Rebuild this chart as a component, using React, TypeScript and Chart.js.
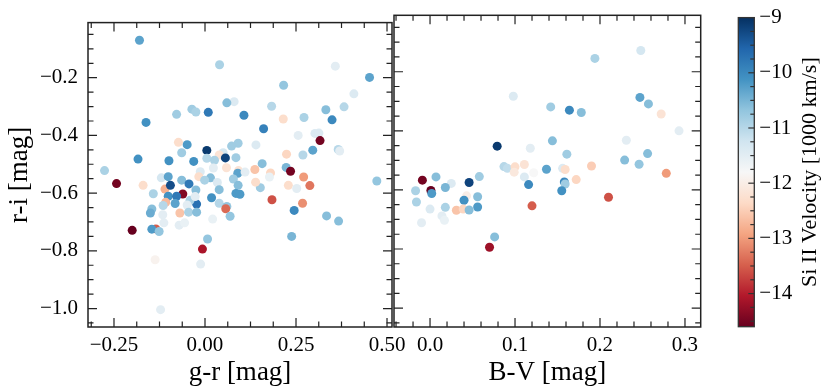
import React, { useEffect, useRef } from "react";
import { Chart, registerables } from "chart.js";
Chart.register(...registerables);

// ---------- data: left panel (g-r vs r-i) ----------
const GR = [
  -0.180, 0.040, 0.358, 0.452, 0.216, 0.409, 0.080, 0.060, 0.183, 0.332,
  0.382, -0.036, -0.025, 0.009, -0.078, 0.107, -0.162, 0.215, 0.272, 0.349,
  0.161, 0.256, 0.302, 0.313, 0.316, -0.073, -0.049, 0.091, 0.073, 0.140,
  0.005, 0.296, 0.366, 0.370, -0.064, 0.050, 0.039, 0.056, -0.184, -0.099,
  -0.031, 0.005, 0.026, 0.085, 0.224, 0.269, 0.157, -0.276, 0.137, 0.180,
  0.223, 0.235, 0.059, 0.092, 0.090, 0.110, -0.013, 0.023, -0.243, -0.170,
  -0.120, -0.101, -0.064, -0.044, -0.017, 0.015, -0.001, 0.034, 0.078, 0.091,
  0.177, 0.271, 0.229, 0.288, 0.252, 0.472, 0.152, 0.139, -0.142, -0.110,
  -0.095, -0.061, -0.025, 0.039, 0.085, 0.096, 0.184, 0.268, 0.018, -0.101,
  -0.078, -0.082, -0.023, -0.041, -0.049, -0.108, -0.146, -0.150, -0.116, -0.115,
  -0.069, -0.045, -0.023, 0.039, 0.060, 0.057, 0.069, 0.021, -0.113, -0.071,
  -0.056, -0.200, -0.135, -0.146, -0.126, 0.007, -0.007, -0.137, -0.012, -0.122,
  0.245, 0.334, 0.367, 0.238, -0.027,
];
const RI_GR = [
  -0.070, -0.155, -0.160, -0.199, -0.226, -0.256, -0.283, -0.287, -0.299, -0.311,
  -0.301, -0.309, -0.319, -0.320, -0.327, -0.330, -0.355, -0.343, -0.338, -0.346,
  -0.377, -0.400, -0.393, -0.392, -0.418, -0.424, -0.432, -0.427, -0.437, -0.433,
  -0.452, -0.451, -0.449, -0.454, -0.460, -0.460, -0.468, -0.478, -0.482, -0.488,
  -0.490, -0.479, -0.486, -0.477, -0.465, -0.468, -0.498, -0.522, -0.518, -0.530,
  -0.511, -0.524, -0.512, -0.522, -0.531, -0.527, -0.526, -0.513, -0.567, -0.573,
  -0.547, -0.543, -0.555, -0.568, -0.543, -0.547, -0.555, -0.563, -0.551, -0.573,
  -0.544, -0.544, -0.573, -0.574, -0.584, -0.558, -0.581, -0.562, -0.602, -0.586,
  -0.573, -0.603, -0.589, -0.588, -0.601, -0.604, -0.623, -0.635, -0.616, -0.611,
  -0.611, -0.636, -0.638, -0.625, -0.641, -0.632, -0.655, -0.669, -0.675, -0.643,
  -0.669, -0.666, -0.666, -0.635, -0.646, -0.654, -0.680, -0.690, -0.703, -0.711,
  -0.703, -0.729, -0.724, -0.725, -0.733, -0.759, -0.794, -0.831, -0.846, -1.004,
  -0.660, -0.679, -0.697, -0.750, -0.612,
];
const VEL_GR = [
  -10.3, -10.9, -11.5, -10.3, -10.7, -11.4, -11.4, -10.6, -11.0, -10.6,
  -11.0, -10.8, -10.9, -9.8, -10.8, -10.0, -10.1, -12.3, -10.9, -10.0,
  -9.9, -11.5, -11.4, -11.4, -14.5, -12.3, -10.2, -10.8, -10.8, -11.4,
  -9.1, -10.3, -11.0, -11.5, -10.8, -11.3, -12.2, -9.2, -10.1, -10.1,
  -10.1, -11.0, -10.9, -10.8, -12.4, -11.0, -10.6, -10.9, -12.6, -12.4,
  -10.5, -14.5, -12.2, -12.2, -10.3, -11.5, -11.4, -11.5, -14.5, -12.3,
  -11.3, -10.3, -10.6, -9.8, -12.3, -10.6, -10.9, -11.4, -10.8, -10.6,
  -11.6, -13.0, -12.3, -13.3, -11.5, -10.7, -10.8, -12.3, -10.9, -12.8,
  -9.3, -14.4, -10.6, -10.6, -10.2, -10.2, -13.6, -13.1, -10.1, -10.1,
  -9.8, -10.3, -9.7, -10.9, -11.5, -12.7, -10.6, -10.4, -11.5, -11.0,
  -12.6, -10.9, -10.6, -11.0, -10.7, -13.4, -10.7, -11.6, -11.5, -11.5,
  -11.6, -14.6, -13.5, -10.2, -10.7, -10.7, -14.1, -11.9, -11.5, -11.5,
  -10.0, -10.6, -10.6, -10.5, -11.5,
];

// ---------- data: right panel (B-V vs r-i) ----------
const BV = [
  0.194, 0.248, 0.098, 0.142, 0.164, 0.178, 0.247, 0.257, 0.272, 0.293,
  0.231, 0.079, 0.118, 0.144, 0.161, 0.229, 0.256, 0.246, 0.190, 0.278,
  0.087, 0.091, 0.100, 0.099, 0.111, 0.111, 0.122, 0.137, 0.156, 0.159,
  0.172, 0.158, 0.159, 0.155, 0.116, 0.210, -0.009, 0.007, 0.025, 0.046,
  0.058, -0.017, 0.001, 0.002, 0.018, 0.043, 0.040, 0.056, -0.016, 0.000,
  0.018, 0.014, 0.017, -0.010, 0.056, 0.031, 0.039, 0.046, 0.076, 0.070,
  0.120,
];
const RI_BV = [
  -0.155, -0.128, -0.283, -0.319, -0.330, -0.338, -0.287, -0.309, -0.343, -0.400,
  -0.432, -0.452, -0.459, -0.434, -0.479, -0.499, -0.477, -0.513, -0.519, -0.544,
  -0.521, -0.527, -0.522, -0.540, -0.514, -0.556, -0.542, -0.530, -0.527, -0.531,
  -0.565, -0.573, -0.580, -0.603, -0.582, -0.625, -0.567, -0.556, -0.578, -0.575,
  -0.555, -0.603, -0.602, -0.612, -0.592, -0.620, -0.635, -0.623, -0.641, -0.665,
  -0.659, -0.688, -0.703, -0.711, -0.658, -0.669, -0.665, -0.668, -0.759, -0.794,
  -0.654,
];
const VEL_BV = [
  -10.9, -11.3, -11.4, -10.8, -10.0, -10.6, -10.3, -10.6, -12.2, -11.5,
  -11.5, -9.1, -11.5, -10.6, -10.8, -10.6, -10.6, -10.7, -12.5, -13.0,
  -11.0, -11.1, -12.3, -12.1, -12.2, -11.4, -11.8, -10.3, -11.4, -12.3,
  -12.4, -10.0, -10.8, -10.1, -10.0, -13.6, -14.5, -10.6, -11.4, -9.2,
  -10.8, -10.9, -14.6, -10.2, -10.5, -12.0, -10.1, -10.6, -10.9, -11.4,
  -10.9, -11.5, -11.6, -11.5, -10.2, -12.6, -12.4, -10.6, -10.6, -14.2,
  -13.5,
];

// ---------- axes / ticks ----------
const GR_TICKS = [-0.25, 0, 0.25, 0.5];
const BV_TICKS = [0, 0.1, 0.2, 0.3];
const RI_TICKS = [-1.0, -0.8, -0.6, -0.4, -0.2];
const VEL_TICKS = [-14, -13, -12, -11, -10, -9];
const GR_RANGE = [-0.3214, 0.5137];
const BV_RANGE = [-0.0424, 0.3185];
const RI_RANGE = [-1.064, -0.009];
const VEL_RANGE = [-14.6, -9];
const X_LABEL_LEFT = "g-r [mag]";
const X_LABEL_RIGHT = "B-V [mag]";
const Y_LABEL = "r-i [mag]";
const CB_LABEL = "Si II Velocity [1000 km/s]";

const RDBU = [
  "#67001f", "#b2182b", "#d6604d", "#f4a582", "#fddbc7", "#f7f7f7",
  "#d1e5f0", "#92c5de", "#4393c3", "#2166ac", "#053061",
];

const FONT = "'Liberation Serif', 'Times New Roman', serif";
const INK = "#222";

function hexToRgb(h: string) {
  return [1, 3, 5].map((i) => parseInt(h.slice(i, i + 2), 16));
}
function velColor(v: number) {
  let t = (v - VEL_RANGE[0]) / (VEL_RANGE[1] - VEL_RANGE[0]);
  t = Math.max(0, Math.min(1, t));
  const p = t * 10;
  const i = Math.min(9, Math.floor(p));
  const f = p - i;
  const a = hexToRgb(RDBU[i]);
  const b = hexToRgb(RDBU[i + 1]);
  const c = a.map((x, k) => Math.round(x + (b[k] - x) * f));
  return `rgb(${c[0]},${c[1]},${c[2]})`;
}
function fmt(v: number, d: number) {
  const s = Math.abs(v).toFixed(d);
  return v < -1e-9 ? "\u2212" + s : s;
}
function minorList(major: number[], step: number, min: number, max: number) {
  const out: number[] = [];
  for (let k = -200; k <= 200; k++) {
    const v = major[0] + k * step;
    if (v < min - 1e-9 || v > max + 1e-9) continue;
    if (major.some((m) => Math.abs(m - v) < step * 0.1)) continue;
    out.push(v);
  }
  return out;
}

function makeFrame(cfg: {
  xMajor: number[]; xStep: number; yMajor: number[]; yStep: number;
}) {
  return {
    id: "frame",
    afterDatasetsDraw(chart: any) {
      const { ctx, chartArea: a } = chart;
      const xs = chart.scales.x;
      const ys = chart.scales.y;
      ctx.save();
      ctx.strokeStyle = INK;
      ctx.lineWidth = 1.2;
      const MAJ = 9, MIN = 5.5;
      const xMin = minorList(cfg.xMajor, cfg.xStep, xs.min, xs.max);
      const yMin = minorList(cfg.yMajor, cfg.yStep, ys.min, ys.max);
      const drawX = (vals: number[], L: number) => {
        vals.forEach((v) => {
          const p = xs.getPixelForValue(v);
          if (p < a.left || p > a.right) return;
          ctx.beginPath();
          ctx.moveTo(p, a.bottom); ctx.lineTo(p, a.bottom - L);
          ctx.moveTo(p, a.top); ctx.lineTo(p, a.top + L);
          ctx.stroke();
        });
      };
      const drawY = (vals: number[], L: number) => {
        vals.forEach((v) => {
          const p = ys.getPixelForValue(v);
          if (p < a.top || p > a.bottom) return;
          ctx.beginPath();
          ctx.moveTo(a.left, p); ctx.lineTo(a.left + L, p);
          ctx.moveTo(a.right, p); ctx.lineTo(a.right - L, p);
          ctx.stroke();
        });
      };
      drawX(cfg.xMajor, MAJ); drawX(xMin, MIN);
      drawY(cfg.yMajor, MAJ); drawY(yMin, MIN);
      ctx.lineWidth = 1.5;
      ctx.strokeRect(a.left, a.top, a.right - a.left, a.bottom - a.top);
      ctx.restore();
    },
  };
}

function panelConfig(opts: {
  xs: number[]; ys: number[]; vs: number[]; xRange: number[]; xTicks: number[];
  xStep: number; xDec: number; xLabel: string; showY: boolean; pad: any;
}) {
  return {
    type: "scatter",
    data: {
      datasets: [
        {
          data: opts.xs.map((x, i) => ({ x, y: opts.ys[i] })),
          backgroundColor: opts.vs.map(velColor),
          pointRadius: 4.5,
          pointHoverRadius: 4.5,
          borderWidth: 0,
        },
      ],
    },
    options: {
      animation: false,
      responsive: false,
      events: [],
      layout: { padding: opts.pad },
      plugins: { legend: { display: false }, tooltip: { enabled: false } },
      scales: {
        x: {
          type: "linear",
          min: opts.xRange[0],
          max: opts.xRange[1],
          afterBuildTicks: (s: any) => { s.ticks = opts.xTicks.map((v) => ({ value: v })); },
          afterFit: (s: any) => { s.height = 64; },
          grid: { display: false, drawTicks: false },
          border: { display: false },
          ticks: {
            color: "#000",
            font: { size: 21, family: FONT },
            padding: 6,
            maxRotation: 0,
            autoSkip: false,
            callback: (v: number) => fmt(v, opts.xDec),
          },
          title: {
            display: true,
            text: opts.xLabel,
            color: "#000",
            font: { size: 27, family: FONT },
            padding: { top: 0, bottom: 2 },
          },
        },
        y: {
          type: "linear",
          display: opts.showY,
          min: RI_RANGE[0],
          max: RI_RANGE[1],
          afterBuildTicks: (s: any) => { s.ticks = RI_TICKS.map((v) => ({ value: v })); },
          afterFit: (s: any) => { s.width = opts.showY ? 88 : 0; },
          grid: { display: false, drawTicks: false },
          border: { display: false },
          ticks: {
            color: "#000",
            font: { size: 21, family: FONT },
            padding: 10,
            autoSkip: false,
            callback: (v: number) => fmt(v, 1),
          },
          title: {
            display: true,
            text: Y_LABEL,
            color: "#000",
            font: { size: 27, family: FONT },
            padding: { top: 4, bottom: 0 },
          },
        },
      },
    },
    plugins: [makeFrame({ xMajor: opts.xTicks, xStep: opts.xStep, yMajor: RI_TICKS, yStep: 0.05 })],
  };
}

function colorbarConfig() {
  const minors = minorList(VEL_TICKS, 0.25, VEL_RANGE[0], VEL_RANGE[1]);
  return {
    type: "scatter",
    data: { datasets: [] },
    options: {
      animation: false,
      responsive: false,
      events: [],
      layout: { padding: { left: 18.3, top: 15.3, right: 0, bottom: 64.3 } },
      plugins: { legend: { display: false }, tooltip: { enabled: false } },
      scales: {
        x: { type: "linear", display: false, min: 0, max: 1 },
        y: {
          type: "linear",
          position: "right",
          min: VEL_RANGE[0],
          max: VEL_RANGE[1],
          afterBuildTicks: (s: any) => { s.ticks = VEL_TICKS.map((v) => ({ value: v })); },
          afterFit: (s: any) => { s.width = 75.7; },
          grid: { display: false, drawTicks: false },
          border: { display: false },
          ticks: {
            color: "#000",
            font: { size: 21, family: FONT },
            padding: 5,
            autoSkip: false,
            callback: (v: number) => fmt(v, 0),
          },
        },
      },
    },
    plugins: [
      {
        id: "cbar",
        beforeDatasetsDraw(chart: any) {
          const { ctx, chartArea: a } = chart;
          const g = ctx.createLinearGradient(0, a.bottom, 0, a.top);
          RDBU.forEach((c, i) => g.addColorStop(i / 10, c));
          ctx.save();
          ctx.fillStyle = g;
          ctx.fillRect(a.left, a.top, a.right - a.left, a.bottom - a.top);
          ctx.restore();
        },
        afterDraw(chart: any) {
          const { ctx, chartArea: a } = chart;
          const ys = chart.scales.y;
          ctx.save();
          ctx.strokeStyle = "#333";
          ctx.lineWidth = 1.2;
          const tick = (v: number, L: number) => {
            const p = ys.getPixelForValue(v);
            ctx.beginPath();
            ctx.moveTo(a.right, p);
            ctx.lineTo(a.right - L, p);
            ctx.stroke();
          };
          VEL_TICKS.forEach((v) => tick(v, 6));
          minors.forEach((v) => tick(v, 4));
          ctx.lineWidth = 1.3;
          ctx.strokeRect(a.left, a.top, a.right - a.left, a.bottom - a.top);
          ctx.fillStyle = "#000";
          ctx.font = `22px ${FONT}`;
          ctx.textAlign = "center";
          ctx.textBaseline = "middle";
          ctx.translate(90.7, (a.top + a.bottom) / 2);
          ctx.rotate(-Math.PI / 2);
          ctx.fillText(CB_LABEL, 0, 0);
          ctx.restore();
        },
      },
    ],
  };
}

export default function App() {
  const leftRef = useRef<HTMLCanvasElement>(null);
  const rightRef = useRef<HTMLCanvasElement>(null);
  const cbRef = useRef<HTMLCanvasElement>(null);

  useEffect(() => {
    Chart.defaults.font.family = FONT;
    Chart.defaults.color = "#000";
    const charts = [
      new Chart(
        leftRef.current as HTMLCanvasElement,
        panelConfig({
          xs: GR, ys: RI_GR, vs: VEL_GR, xRange: GR_RANGE, xTicks: GR_TICKS,
          xStep: 0.0625, xDec: 2, xLabel: X_LABEL_LEFT, showY: true,
          pad: { left: 0, top: 15.3, right: 38, bottom: 0 },
        }) as any
      ),
      new Chart(
        rightRef.current as HTMLCanvasElement,
        panelConfig({
          xs: BV, ys: RI_BV, vs: VEL_BV, xRange: BV_RANGE, xTicks: BV_TICKS,
          xStep: 0.02, xDec: 1, xLabel: X_LABEL_RIGHT, showY: false,
          pad: { left: 14, top: 15.3, right: 19.3, bottom: 0 },
        }) as any
      ),
      new Chart(cbRef.current as HTMLCanvasElement, colorbarConfig() as any),
    ];
    return () => charts.forEach((c) => c.destroy());
  }, []);

  return (
    <div style={{ position: "fixed", left: 0, top: 0, width: 830, height: 391, background: "#fff" }}>
      <canvas ref={leftRef} width={430} height={391} style={{ position: "absolute", left: 0, top: 0 }} />
      <canvas ref={rightRef} width={340} height={391} style={{ position: "absolute", left: 380, top: 0 }} />
      <canvas ref={cbRef} width={110} height={391} style={{ position: "absolute", left: 720, top: 0 }} />
    </div>
  );
}
